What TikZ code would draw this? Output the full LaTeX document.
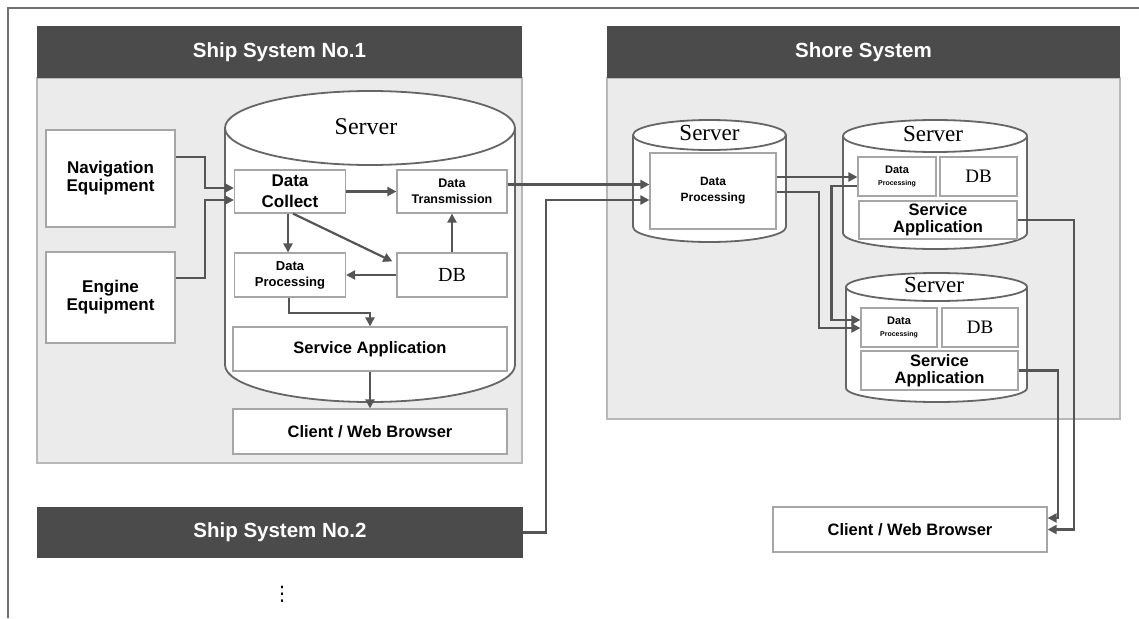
\documentclass[tikz,border=0pt]{standalone}
\usepackage{fontspec}
\setmainfont{Liberation Sans}
\newfontfamily\srf{Liberation Serif}
\newfontfamily\djv{DejaVu Sans}
\usetikzlibrary{calc,arrows.meta}
\definecolor{hdr}{HTML}{4B4B4B}
\definecolor{panc}{HTML}{EBEBEB}
\definecolor{panb}{HTML}{B8B8B8}
\definecolor{boxc}{HTML}{A6A6A6}
\definecolor{lnc}{HTML}{555555}
\definecolor{cylc}{HTML}{666666}
\definecolor{framec}{HTML}{707070}
\newcommand\fs[2]{\fontsize{#1}{#2}\selectfont}
\newcommand\drawcyl[5]{%
  \fill[white] ({#1-#2},#3) -- ({#1-#2},#4) arc[start angle=180,end angle=0,x radius=#2,y radius=#5] -- ({#1+#2},#3) arc[start angle=0,end angle=-180,x radius=#2,y radius=#5] -- cycle;
  \draw[cyl] ({#1-#2},#3) -- ({#1-#2},#4) arc[start angle=180,end angle=0,x radius=#2,y radius=#5] -- ({#1+#2},#3);
  \draw[cyl] (#1,#3) ellipse[x radius=#2,y radius=#5];}
\begin{document}
\begin{tikzpicture}[x=1pt,y=-1pt,
  box/.style={draw=boxc, fill=white, line width=1.2pt, inner sep=0pt, align=center, font=\bfseries},
  ln/.style={draw=lnc, line width=2.2pt},
  arr/.style={ln, -{Triangle[length=9pt,width=9pt]}},
  cyl/.style={draw=cylc, line width=1.8pt},
  hdrbox/.style={fill=hdr, draw=none, text=white, font=\bfseries\fs{20.5}{22}, inner sep=0pt},
  panel/.style={fill=panc, draw=panb, line width=1.2pt, inner sep=0pt},
  srvlabel/.style={font=\srf, inner sep=0pt}
]
\useasboundingbox (0,0) rectangle (1139,618);
\fill[white] (0,0) rectangle (1139,618);
\draw[framec, line width=1.5pt] (8,618) -- (8,8) -- (1139,8);

% ---------- Ship System No.1 ----------
\node[panel, minimum width=485, minimum height=385] (p1body) at (279.5,270.5) {};
\node[hdrbox, minimum width=485, minimum height=52] (p1hdr) at (279.5,52) {Ship System No.1};

\drawcyl{370}{145}{128}{365}{37}
\node[srvlabel, font=\srf\fs{24}{25}] (srv1) at (366,127) {Server};

\node[box, minimum width=129, minimum height=97, font=\bfseries\fs{17}{18}] (nav) at (110.5,178.5) {Navigation\\Equipment};
\node[box, minimum width=129, minimum height=91, font=\bfseries\fs{17}{18}] (eng) at (110.5,297.5) {Engine\\Equipment};

\node[box, minimum width=111, minimum height=43, font=\bfseries\fs{17}{21}] (dc) at (290,191.5) {Data\\Collect};
\node[box, minimum width=110, minimum height=43, font=\bfseries\fs{12.5}{16}] (dt) at (452,191.5) {Data\\Transmission};
\node[box, minimum width=111, minimum height=44, font=\bfseries\fs{13}{16}] (dp) at (290,275) {Data\\Processing};
\node[box, minimum width=110, minimum height=44, font=\srf\fs{20}{21}] (db) at (452,275) {DB};
\node[box, minimum width=274, minimum height=44, font=\bfseries\fs{16.5}{18}] (sa) at (370,349) {Service Application};
\node[box, minimum width=274, minimum height=45, font=\bfseries\fs{16.5}{18}] (cl) at (370,431.5) {Client / Web Browser};

% ---------- Ship System No.2 ----------
\node[hdrbox, minimum width=486, minimum height=51] (ship2) at (280,532.5) {Ship System No.2};
\node[inner sep=0pt, font=\djv\fs{20}{20}] (dots) at (282,594) {⋮};

% ---------- Shore System ----------
\node[panel, minimum width=513, minimum height=341] (p2body) at (863.5,248.5) {};
\node[hdrbox, minimum width=513, minimum height=52] (p2hdr) at (863.5,52) {Shore System};

\drawcyl{709.5}{76.5}{135}{227}{15}
\node[srvlabel, font=\srf\fs{23}{24}] (srvA) at (709.5,133) {Server};
\node[box, minimum width=126, minimum height=76, font=\bfseries\fs{12}{16}] (dp1) at (713,191) {Data\\Processing};

\drawcyl{935}{92}{136}{233}{16}
\node[srvlabel, font=\srf\fs{23}{24}] (srvB) at (933,134) {Server};
\node[box, minimum width=78, minimum height=39] (dp2) at (897,176.5) {{\fs{11}{12}Data}\\{\fs{7}{9}Processing}};
\node[box, minimum width=77, minimum height=39, font=\srf\fs{19}{20}] (db2) at (978.5,176.5) {DB};
\node[box, minimum width=158, minimum height=38, font=\bfseries\fs{16.5}{17}] (sa2) at (938,220) {Service\\Application};

\drawcyl{936.5}{90.5}{287}{388}{14}
\node[srvlabel, font=\srf\fs{23}{24}] (srvC) at (934,285) {Server};
\node[box, minimum width=76, minimum height=39] (dp3) at (899,327.5) {{\fs{11}{12}Data}\\{\fs{7}{9}Processing}};
\node[box, minimum width=76, minimum height=39, font=\srf\fs{19}{20}] (db3) at (980,327.5) {DB};
\node[box, minimum width=157, minimum height=39, font=\bfseries\fs{16.5}{17}] (sa3) at (939.5,370.5) {Service\\Application};

\node[box, minimum width=274, minimum height=45, font=\bfseries\fs{16.5}{18}] (cl2) at (910,529.5) {Client / Web Browser};

% ---------- connectors: ship ----------
\draw[arr] ($(nav.east)+(0,-21.5)$) -- ++(29,0) |- ($(dc.west)+(0,-3.5)$);
\draw[arr] ($(eng.east)+(0,-19.5)$) -- ++(29,0) |- ($(dc.west)+(0,8.5)$);
\draw[arr] (dc.east) -- (dt.west);
\draw[arr] ($(dc.south)+(-2,0)$) -- ($(dp.north)+(-2,0)$);
\draw[arr] ($(dc.south)+(3,0)$) -- ($(db.north west)+(-4,9)$);
\draw[arr] (db.west) -- (dp.east);
\draw[arr] (db.north) -- (dt.south);
\draw[arr] ($(dp.south)+(-1,0)$) -- ++(0,15) -| (sa.north);
\draw[arr] (sa.south) -- (cl.north);

% ---------- connectors: ship to shore ----------
\draw[arr] ($(dt.east)+(0,-7)$) -- ($(dp1.west)+(0,-6.5)$);
\draw[arr] (ship2.east) -- ++(23,0) |- ($(dp1.west)+(0,9)$);

% ---------- connectors: shore ----------
\draw[arr] ($(dp1.east)+(0,-14)$) -- ($(dp2.west)+(0,0.5)$);
\draw[arr] ($(dp1.east)+(0,1)$) -- ++(42,0) |- ($(dp3.west)+(0,0.5)$);
\draw[arr] ($(dp2.west)+(0,9.5)$) -- ++(-26,0) |- ($(dp3.west)+(0,-7.5)$);
\draw[arr] (sa2.east) -- ++(56,0) |- (cl2.east);
\draw[arr] (sa3.east) -- ++(39,0) |- ($(cl2.east)+(0,-11.5)$);
\end{tikzpicture}
\end{document}
